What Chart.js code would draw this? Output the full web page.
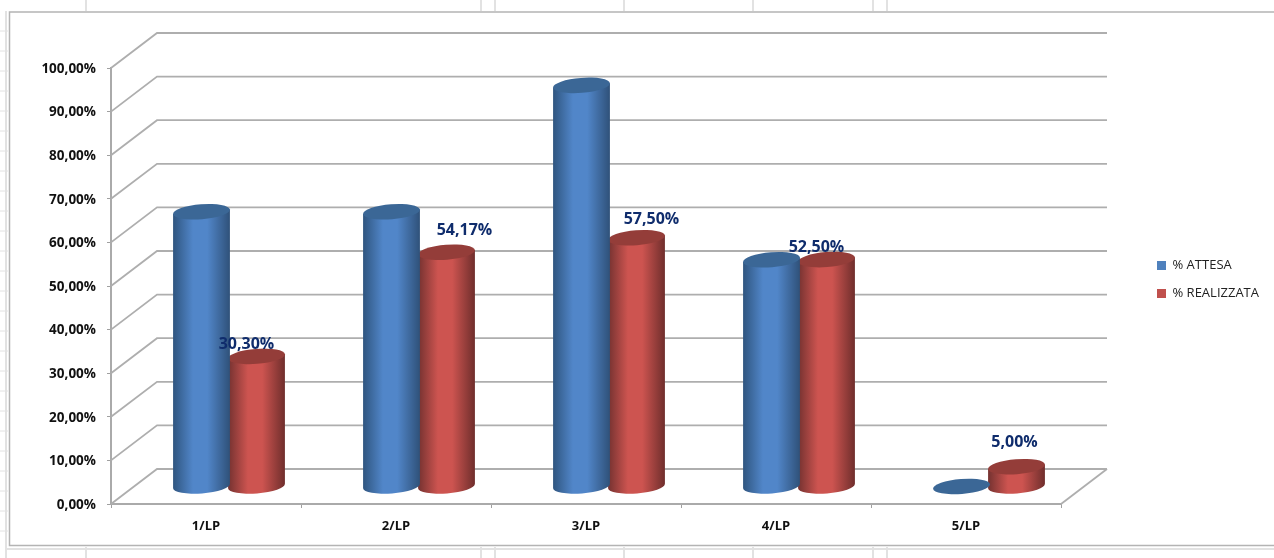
<!DOCTYPE html>
<html>
<head>
<meta charset="utf-8">
<style>html,body{margin:0;padding:0;background:#fff}canvas{display:block}</style>
<script src="https://cdn.jsdelivr.net/npm/chart.js@4"></script>
</head>
<body>
<canvas id="c" width="1274" height="558"></canvas>
<script>
const categories = ['1/LP','2/LP','3/LP','4/LP','5/LP'];
const attesa = [63, 63, 92, 52, 0];
const realizzata = [30.30, 54.17, 57.50, 52.50, 5.00];
const seriesNames = ['% ATTESA','% REALIZZATA'];
const fmt = v => v.toFixed(2).replace('.', ',') + '%';

const DX = 46, DY = -35;
const FONT = '"Open Sans", sans-serif';
const shades = [
  {edge:'#2f557f', mid:'#5186c9', right:'#2f5179', top:'#3b6796', lift:0},
  {edge:'#743230', mid:'#cd5450', right:'#6f2e2c', top:'#943d39', lift:2}
];
const labelShift = [[-10,-10],[18,-20],[15,-16],[-10,-10],[-2,-22]];

const sheet = {
  id:'sheet',
  beforeDraw(chart){
    const c = chart.ctx; c.save();
    c.fillStyle='#fff'; c.fillRect(0,0,1274,558);
    c.strokeStyle='#e2e2e2'; c.lineWidth=2;
    [86,481,495,624,753,873,887].forEach(x=>{
      c.beginPath();c.moveTo(x,0);c.lineTo(x,11);c.moveTo(x,547);c.lineTo(x,558);c.stroke();
    });
    c.beginPath();c.moveTo(6,11);c.lineTo(6,558);c.moveTo(6,549);c.lineTo(1274,549);c.stroke();
    c.lineWidth=1;
    for(let y=31;y<545;y+=20){c.beginPath();c.moveTo(0,y);c.lineTo(8,y);c.stroke();}
    c.strokeStyle='#b4b4b4'; c.lineWidth=1.5;
    c.beginPath();c.moveTo(1274,12);c.lineTo(9.5,12);c.lineTo(9.5,545.5);c.lineTo(1274,545.5);c.stroke();
    c.restore();
  },
  beforeDatasetsDraw(chart){
    const c = chart.ctx, y = chart.scales.y, a = chart.chartArea;
    c.save(); c.strokeStyle='#aeaeae'; c.lineWidth=1.8;
    y.ticks.forEach(t=>{
      const p = y.getPixelForValue(t.value);
      c.beginPath();c.moveTo(a.left,p);c.lineTo(a.left+DX,p+DY);c.lineTo(a.right+DX,p+DY);c.stroke();
    });
    const p0 = y.getPixelForValue(0);
    c.beginPath();c.moveTo(a.right,p0);c.lineTo(a.right+DX,p0+DY);c.stroke();
    c.restore();
  },
  beforeDatasetDraw(chart,args){
    const c = chart.ctx, s = shades[args.index];
    const rot = -4.5*Math.PI/180, ry = 7.5;
    args.meta.data.forEach(el=>{
      const rx = el.width/2+1;
      const cx = el.x+DX/2, top = el.y+DY/2+s.lift, bot = el.base+DY/2;
      const ox = rx*Math.cos(rot), oy = rx*Math.sin(rot);
      c.save();
      if(top<bot-0.5){
        const g = c.createLinearGradient(cx-rx,0,cx+rx,0);
        g.addColorStop(0,s.edge);g.addColorStop(.35,s.mid);g.addColorStop(.6,s.mid);g.addColorStop(1,s.right);
        c.fillStyle=g;
        c.beginPath();
        c.moveTo(cx-ox,top-oy);
        c.lineTo(cx-ox,bot-oy);
        c.ellipse(cx,bot,rx,ry,rot,Math.PI,0,true);
        c.lineTo(cx+ox,top+oy);
        c.closePath();c.fill();
      }
      c.fillStyle=s.top;
      c.beginPath();c.ellipse(cx,top,rx,ry,rot,0,Math.PI*2);c.fill();
      c.restore();
    });
    return false;
  },
  afterDatasetsDraw(chart){
    const c = chart.ctx, m = chart.getDatasetMeta(1);
    c.save();c.fillStyle='#0f2c6c';c.font='bold 16px '+FONT;c.textAlign='center';c.textBaseline='middle';
    m.data.forEach((el,i)=>{
      c.fillText(fmt(realizzata[i]),el.x+DX/2+labelShift[i][0],el.y+DY/2+labelShift[i][1]);
    });
    c.restore();
  },
  beforeLayout(chart){
    const l = chart.legend;
    if(!l._wrapped){
      const f = l.fit;
      l.fit = function(){ f.call(this); this.width = 213; };
      l._wrapped = true;
    }
  },
  afterLayout(chart){
    const l = chart.legend;
    l.left = 1142; l.right = 1274; l.top = 244; l.bottom = 320;
  }
};

new Chart(document.getElementById('c'),{
  type:'bar',
  data:{labels:categories,datasets:[
    {label:seriesNames[0],data:attesa,backgroundColor:'#4f81bd',categoryPercentage:110/190,barPercentage:1},
    {label:seriesNames[1],data:realizzata,backgroundColor:'#c0504d',categoryPercentage:110/190,barPercentage:1}
  ]},
  options:{
    responsive:false,animation:false,devicePixelRatio:1,
    layout:{padding:{top:68,left:0,right:0,bottom:0}},
    plugins:{
      title:{display:false},tooltip:{enabled:false},
      legend:{position:'right',align:'start',
        labels:{boxWidth:9,boxHeight:9,padding:15,color:'#222',font:{family:FONT,size:13}}}
    },
    scales:{
      x:{
        grid:{drawOnChartArea:false,color:'#a0a0a0',tickLength:4,lineWidth:1},
        border:{color:'#aaaaaa',width:2},
        ticks:{color:'#111',padding:10,font:{family:FONT,size:13,weight:'bold'}},
        afterFit(s){s.height=54;}
      },
      y:{
        min:0,max:100,
        grid:{drawOnChartArea:false,color:'#a0a0a0',tickLength:4,lineWidth:1},
        border:{color:'#aaaaaa',width:2},
        ticks:{stepSize:10,color:'#111',padding:11,labelOffset:1,font:{family:FONT,size:13.5,weight:'bold'},callback:v=>fmt(v)},
        afterFit(s){s.width=111;}
      }
    }
  },
  plugins:[sheet]
});
</script>
</body>
</html>
